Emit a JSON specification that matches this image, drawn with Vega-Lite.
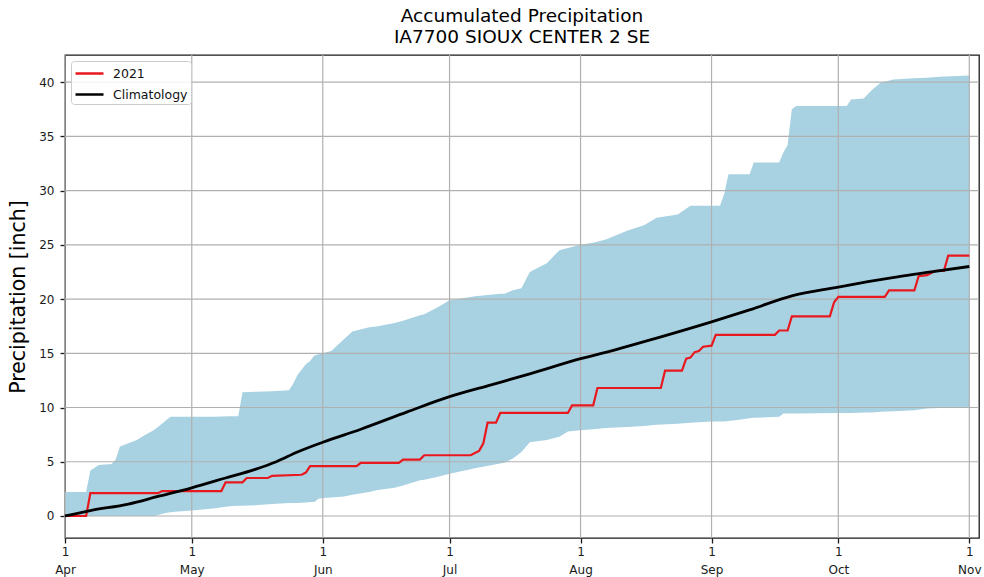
{
  "$schema": "https://vega.github.io/schema/vega-lite/v6.json",
  "width": 914,
  "height": 483,
  "autosize": {"type": "none"},
  "padding": {"left": 65, "top": 55, "right": 5, "bottom": 39},
  "background": "white",
  "title": {
    "text": ["Accumulated Precipitation", "IA7700 SIOUX CENTER 2 SE"],
    "fontSize": 18.5,
    "fontWeight": "normal",
    "lineHeight": 21,
    "offset": 8,
    "anchor": "middle",
    "color": "#000000"
  },
  "config": {
    "font": "DejaVu Sans, sans-serif",
    "view": {"stroke": "#1a1a1a", "strokeWidth": 1.3},
    "axis": {
      "grid": false,
      "domain": false,
      "tickColor": "#1a1a1a",
      "tickWidth": 1.3,
      "tickSize": 5,
      "labelColor": "#1a1a1a",
      "labelFontSize": 12,
      "titleColor": "#000000"
    },
    "axisX": {
      "labelLineHeight": 18,
      "labelPadding": 3,
      "labelFlush": false,
      "labelOverlap": false
    },
    "axisY": {
      "titleFontSize": 20.5,
      "titleFontWeight": "normal",
      "titlePadding": 10,
      "labelPadding": 6
    }
  },
  "datasets": {
    "band": [
      {"date": "2021-04-01", "lo": 0, "hi": 2.2},
      {"date": "2021-04-06", "lo": 0, "hi": 2.2},
      {"date": "2021-04-07", "lo": 0, "hi": 4.2},
      {"date": "2021-04-09", "lo": 0, "hi": 4.7},
      {"date": "2021-04-12", "lo": 0, "hi": 4.8},
      {"date": "2021-04-13", "lo": 0, "hi": 5.2},
      {"date": "2021-04-14", "lo": 0, "hi": 6.4},
      {"date": "2021-04-18", "lo": 0, "hi": 7.0},
      {"date": "2021-04-20", "lo": 0, "hi": 7.5},
      {"date": "2021-04-22", "lo": 0, "hi": 7.9},
      {"date": "2021-04-23", "lo": 0.1, "hi": 8.2},
      {"date": "2021-04-25", "lo": 0.3, "hi": 8.85},
      {"date": "2021-04-26", "lo": 0.35, "hi": 9.15},
      {"date": "2021-04-27", "lo": 0.4, "hi": 9.15},
      {"date": "2021-05-01", "lo": 0.5, "hi": 9.15},
      {"date": "2021-05-06", "lo": 0.7, "hi": 9.15},
      {"date": "2021-05-10", "lo": 0.9, "hi": 9.2},
      {"date": "2021-05-12", "lo": 0.95, "hi": 9.2},
      {"date": "2021-05-13", "lo": 0.95, "hi": 11.4},
      {"date": "2021-05-16", "lo": 1.0, "hi": 11.45},
      {"date": "2021-05-20", "lo": 1.1, "hi": 11.5},
      {"date": "2021-05-24", "lo": 1.2, "hi": 11.6},
      {"date": "2021-05-25", "lo": 1.2, "hi": 12.2},
      {"date": "2021-05-26", "lo": 1.2, "hi": 13.0},
      {"date": "2021-05-28", "lo": 1.25, "hi": 14.0},
      {"date": "2021-05-29", "lo": 1.3, "hi": 14.3},
      {"date": "2021-05-30", "lo": 1.3, "hi": 14.8},
      {"date": "2021-05-31", "lo": 1.6, "hi": 14.9},
      {"date": "2021-06-01", "lo": 1.65, "hi": 15.0},
      {"date": "2021-06-03", "lo": 1.7, "hi": 15.2},
      {"date": "2021-06-06", "lo": 1.8, "hi": 16.3},
      {"date": "2021-06-08", "lo": 1.95, "hi": 17.0},
      {"date": "2021-06-12", "lo": 2.2, "hi": 17.4},
      {"date": "2021-06-14", "lo": 2.4, "hi": 17.5},
      {"date": "2021-06-18", "lo": 2.6, "hi": 17.8},
      {"date": "2021-06-20", "lo": 2.8, "hi": 18.0},
      {"date": "2021-06-24", "lo": 3.3, "hi": 18.5},
      {"date": "2021-06-25", "lo": 3.35, "hi": 18.6},
      {"date": "2021-06-28", "lo": 3.6, "hi": 19.2},
      {"date": "2021-07-01", "lo": 3.9, "hi": 19.9},
      {"date": "2021-07-06", "lo": 4.3, "hi": 20.2},
      {"date": "2021-07-07", "lo": 4.4, "hi": 20.25},
      {"date": "2021-07-13", "lo": 4.85, "hi": 20.5},
      {"date": "2021-07-14", "lo": 4.9, "hi": 20.5},
      {"date": "2021-07-16", "lo": 5.3, "hi": 20.8},
      {"date": "2021-07-18", "lo": 5.9, "hi": 21.0},
      {"date": "2021-07-20", "lo": 6.8, "hi": 22.5},
      {"date": "2021-07-24", "lo": 7.0, "hi": 23.3},
      {"date": "2021-07-27", "lo": 7.3, "hi": 24.5},
      {"date": "2021-07-29", "lo": 7.8, "hi": 24.7},
      {"date": "2021-08-01", "lo": 7.9, "hi": 25.0},
      {"date": "2021-08-04", "lo": 8.0, "hi": 25.2},
      {"date": "2021-08-07", "lo": 8.1, "hi": 25.5},
      {"date": "2021-08-12", "lo": 8.2, "hi": 26.3},
      {"date": "2021-08-16", "lo": 8.3, "hi": 26.8},
      {"date": "2021-08-19", "lo": 8.4, "hi": 27.5},
      {"date": "2021-08-24", "lo": 8.5, "hi": 27.8},
      {"date": "2021-08-27", "lo": 8.6, "hi": 28.6},
      {"date": "2021-09-01", "lo": 8.7, "hi": 28.6},
      {"date": "2021-09-03", "lo": 8.7, "hi": 28.6},
      {"date": "2021-09-04", "lo": 8.7, "hi": 29.7},
      {"date": "2021-09-05", "lo": 8.75, "hi": 31.5},
      {"date": "2021-09-06", "lo": 8.8, "hi": 31.5},
      {"date": "2021-09-08", "lo": 8.9, "hi": 31.5},
      {"date": "2021-09-10", "lo": 9.0, "hi": 31.5},
      {"date": "2021-09-11", "lo": 9.05, "hi": 32.6},
      {"date": "2021-09-17", "lo": 9.15, "hi": 32.6},
      {"date": "2021-09-18", "lo": 9.45, "hi": 33.5},
      {"date": "2021-09-19", "lo": 9.45, "hi": 34.2},
      {"date": "2021-09-20", "lo": 9.45, "hi": 37.5},
      {"date": "2021-09-21", "lo": 9.45, "hi": 37.8},
      {"date": "2021-10-01", "lo": 9.5, "hi": 37.8},
      {"date": "2021-10-03", "lo": 9.5, "hi": 37.8},
      {"date": "2021-10-04", "lo": 9.5, "hi": 38.4},
      {"date": "2021-10-07", "lo": 9.55, "hi": 38.5},
      {"date": "2021-10-09", "lo": 9.55, "hi": 39.3},
      {"date": "2021-10-11", "lo": 9.6, "hi": 39.95},
      {"date": "2021-10-14", "lo": 9.65, "hi": 40.25},
      {"date": "2021-10-19", "lo": 9.75, "hi": 40.35},
      {"date": "2021-10-22", "lo": 9.9, "hi": 40.4},
      {"date": "2021-10-25", "lo": 9.95, "hi": 40.5},
      {"date": "2021-11-01", "lo": 10.05, "hi": 40.6}
    ],
    "months": [
      {"date": "2021-04-01"}, {"date": "2021-05-01"}, {"date": "2021-06-01"}, {"date": "2021-07-01"},
      {"date": "2021-08-01"}, {"date": "2021-09-01"}, {"date": "2021-10-01"}, {"date": "2021-11-01"}
    ],
    "yticks": [
      {"lo": 0}, {"lo": 5}, {"lo": 10}, {"lo": 15}, {"lo": 20},
      {"lo": 25}, {"lo": 30}, {"lo": 35}, {"lo": 40}
    ],
    "lines": [
      {"series": "2021", "date": "2021-04-01", "lo": 0},
      {"series": "2021", "date": "2021-04-06", "lo": 0},
      {"series": "2021", "date": "2021-04-07", "lo": 2.1},
      {"series": "2021", "date": "2021-04-23", "lo": 2.1},
      {"series": "2021", "date": "2021-04-24", "lo": 2.3},
      {"series": "2021", "date": "2021-05-08", "lo": 2.3},
      {"series": "2021", "date": "2021-05-09", "lo": 3.1},
      {"series": "2021", "date": "2021-05-13", "lo": 3.1},
      {"series": "2021", "date": "2021-05-14", "lo": 3.5},
      {"series": "2021", "date": "2021-05-19", "lo": 3.5},
      {"series": "2021", "date": "2021-05-20", "lo": 3.7},
      {"series": "2021", "date": "2021-05-27", "lo": 3.8},
      {"series": "2021", "date": "2021-05-28", "lo": 4.0},
      {"series": "2021", "date": "2021-05-29", "lo": 4.6},
      {"series": "2021", "date": "2021-06-09", "lo": 4.6},
      {"series": "2021", "date": "2021-06-10", "lo": 4.9},
      {"series": "2021", "date": "2021-06-19", "lo": 4.9},
      {"series": "2021", "date": "2021-06-20", "lo": 5.2},
      {"series": "2021", "date": "2021-06-24", "lo": 5.2},
      {"series": "2021", "date": "2021-06-25", "lo": 5.6},
      {"series": "2021", "date": "2021-07-06", "lo": 5.6},
      {"series": "2021", "date": "2021-07-07", "lo": 5.8},
      {"series": "2021", "date": "2021-07-08", "lo": 6.0},
      {"series": "2021", "date": "2021-07-09", "lo": 6.7},
      {"series": "2021", "date": "2021-07-10", "lo": 8.6},
      {"series": "2021", "date": "2021-07-12", "lo": 8.6},
      {"series": "2021", "date": "2021-07-13", "lo": 9.5},
      {"series": "2021", "date": "2021-07-29", "lo": 9.5},
      {"series": "2021", "date": "2021-07-30", "lo": 10.2},
      {"series": "2021", "date": "2021-08-04", "lo": 10.2},
      {"series": "2021", "date": "2021-08-05", "lo": 11.8},
      {"series": "2021", "date": "2021-08-20", "lo": 11.8},
      {"series": "2021", "date": "2021-08-21", "lo": 13.4},
      {"series": "2021", "date": "2021-08-25", "lo": 13.4},
      {"series": "2021", "date": "2021-08-26", "lo": 14.5},
      {"series": "2021", "date": "2021-08-27", "lo": 14.6},
      {"series": "2021", "date": "2021-08-28", "lo": 15.1},
      {"series": "2021", "date": "2021-08-29", "lo": 15.2},
      {"series": "2021", "date": "2021-08-30", "lo": 15.6},
      {"series": "2021", "date": "2021-09-01", "lo": 15.7},
      {"series": "2021", "date": "2021-09-02", "lo": 16.7},
      {"series": "2021", "date": "2021-09-16", "lo": 16.7},
      {"series": "2021", "date": "2021-09-17", "lo": 17.1},
      {"series": "2021", "date": "2021-09-19", "lo": 17.1},
      {"series": "2021", "date": "2021-09-20", "lo": 18.4},
      {"series": "2021", "date": "2021-09-29", "lo": 18.4},
      {"series": "2021", "date": "2021-09-30", "lo": 19.7},
      {"series": "2021", "date": "2021-10-01", "lo": 20.2},
      {"series": "2021", "date": "2021-10-12", "lo": 20.2},
      {"series": "2021", "date": "2021-10-13", "lo": 20.8},
      {"series": "2021", "date": "2021-10-19", "lo": 20.8},
      {"series": "2021", "date": "2021-10-20", "lo": 22.1},
      {"series": "2021", "date": "2021-10-22", "lo": 22.2},
      {"series": "2021", "date": "2021-10-24", "lo": 22.6},
      {"series": "2021", "date": "2021-10-26", "lo": 22.6},
      {"series": "2021", "date": "2021-10-27", "lo": 24.0},
      {"series": "2021", "date": "2021-11-01", "lo": 24.0},
      {"series": "Climatology", "date": "2021-04-01", "lo": 0},
      {"series": "Climatology", "date": "2021-04-07", "lo": 0.5},
      {"series": "Climatology", "date": "2021-04-16", "lo": 1.1},
      {"series": "Climatology", "date": "2021-04-23", "lo": 1.8},
      {"series": "Climatology", "date": "2021-05-01", "lo": 2.6},
      {"series": "Climatology", "date": "2021-05-09", "lo": 3.5},
      {"series": "Climatology", "date": "2021-05-16", "lo": 4.3},
      {"series": "Climatology", "date": "2021-05-21", "lo": 5.0},
      {"series": "Climatology", "date": "2021-05-26", "lo": 5.9},
      {"series": "Climatology", "date": "2021-06-01", "lo": 6.8},
      {"series": "Climatology", "date": "2021-06-10", "lo": 8.0},
      {"series": "Climatology", "date": "2021-06-21", "lo": 9.6},
      {"series": "Climatology", "date": "2021-07-01", "lo": 11.0},
      {"series": "Climatology", "date": "2021-07-10", "lo": 12.0},
      {"series": "Climatology", "date": "2021-07-20", "lo": 13.1},
      {"series": "Climatology", "date": "2021-08-01", "lo": 14.5},
      {"series": "Climatology", "date": "2021-08-09", "lo": 15.3},
      {"series": "Climatology", "date": "2021-08-19", "lo": 16.4},
      {"series": "Climatology", "date": "2021-09-01", "lo": 17.9},
      {"series": "Climatology", "date": "2021-09-10", "lo": 19.0},
      {"series": "Climatology", "date": "2021-09-20", "lo": 20.3},
      {"series": "Climatology", "date": "2021-10-01", "lo": 21.1},
      {"series": "Climatology", "date": "2021-10-08", "lo": 21.6},
      {"series": "Climatology", "date": "2021-10-15", "lo": 22.05},
      {"series": "Climatology", "date": "2021-10-23", "lo": 22.5},
      {"series": "Climatology", "date": "2021-11-01", "lo": 23.0}
    ]
  },
  "layer": [
    {
      "data": {"name": "band"},
      "mark": {"type": "area", "color": "#a8d2e2", "opacity": 1},
      "encoding": {
        "x": {
          "field": "date",
          "type": "temporal",
          "scale": {"type": "utc", "domain": [{"year": 2021, "month": 4, "date": 1, "utc": true}, {"year": 2021, "month": 11, "date": 3, "hours": 7, "utc": true}]},
          "axis": {
            "title": null,
            "values": [
              {"year": 2021, "month": 4, "date": 1, "utc": true},
              {"year": 2021, "month": 5, "date": 1, "utc": true},
              {"year": 2021, "month": 6, "date": 1, "utc": true},
              {"year": 2021, "month": 7, "date": 1, "utc": true},
              {"year": 2021, "month": 8, "date": 1, "utc": true},
              {"year": 2021, "month": 9, "date": 1, "utc": true},
              {"year": 2021, "month": 10, "date": 1, "utc": true},
              {"year": 2021, "month": 11, "date": 1, "utc": true}
            ],
            "labelExpr": "['1', utcFormat(datum.value, '%b')]"
          }
        },
        "y": {
          "field": "lo",
          "type": "quantitative",
          "title": "Precipitation [inch]",
          "scale": {"domain": [-2.03, 42.5], "nice": false, "zero": false},
          "axis": {"values": [0, 5, 10, 15, 20, 25, 30, 35, 40]}
        },
        "y2": {"field": "hi"}
      }
    },
    {
      "data": {"name": "months"},
      "mark": {"type": "rule", "color": "#b0b0b0", "strokeWidth": 1.2},
      "encoding": {
        "x": {"field": "date", "type": "temporal"}
      }
    },
    {
      "data": {"name": "yticks"},
      "mark": {"type": "rule", "color": "#b0b0b0", "strokeWidth": 1.2},
      "encoding": {
        "y": {"field": "lo", "type": "quantitative", "title": "Precipitation [inch]"}
      }
    },
    {
      "data": {"name": "lines"},
      "transform": [{"filter": "datum.series === '2021'"}],
      "mark": {"type": "line", "strokeWidth": 2.2, "interpolate": "linear"},
      "encoding": {
        "x": {"field": "date", "type": "temporal"},
        "y": {"field": "lo", "type": "quantitative", "title": "Precipitation [inch]"},
        "color": {
          "field": "series",
          "type": "nominal",
          "scale": {"domain": ["2021", "Climatology"], "range": ["#e8191e", "#000000"]},
          "legend": {
            "title": null,
            "orient": "top-left",
            "offset": 6,
            "fillColor": "rgba(255,255,255,0.85)",
            "strokeColor": "#cccccc",
            "cornerRadius": 3,
            "padding": 3,
            "rowPadding": 5,
            "symbolType": "M-1.75,0H1.75",
            "symbolSize": 256,
            "symbolStrokeWidth": 2.5,
            "symbolOffset": 6,
            "labelOffset": 14,
            "labelFontSize": 12.5,
            "labelColor": "#111111"
          }
        }
      }
    },
    {
      "data": {"name": "lines"},
      "transform": [{"filter": "datum.series === 'Climatology'"}],
      "mark": {"type": "line", "strokeWidth": 2.8, "interpolate": "monotone"},
      "encoding": {
        "x": {"field": "date", "type": "temporal"},
        "y": {"field": "lo", "type": "quantitative", "title": "Precipitation [inch]"},
        "color": {
          "field": "series",
          "type": "nominal",
          "scale": {"domain": ["2021", "Climatology"], "range": ["#e8191e", "#000000"]}
        }
      }
    }
  ]
}
